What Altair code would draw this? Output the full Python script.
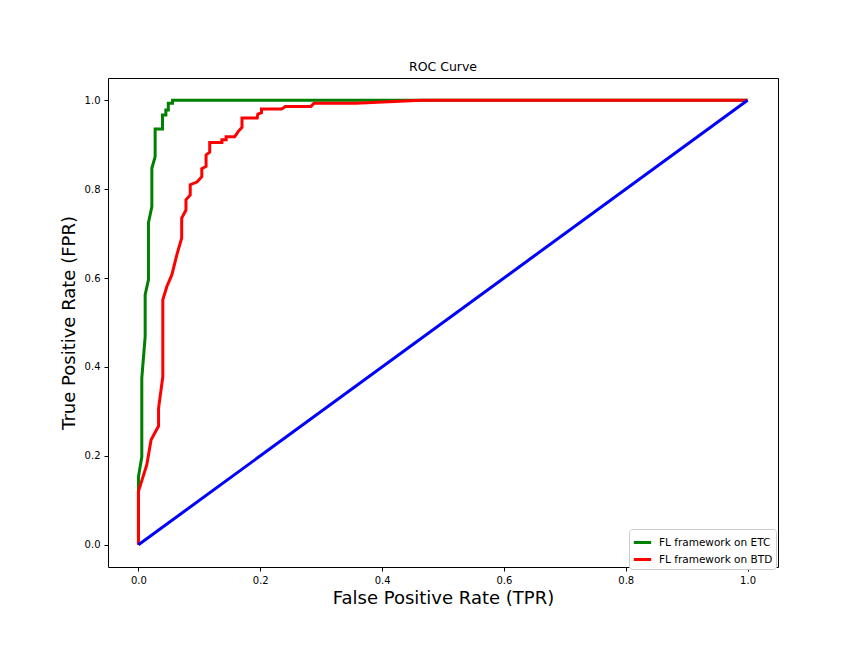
import altair as alt
import pandas as pd

etc_fpr = [0.0, 0.0, 0.0055, 0.0055, 0.011, 0.011, 0.0164, 0.0164, 0.022, 0.022, 0.0274, 0.0274,
           0.0395, 0.0395, 0.045, 0.045, 0.049, 0.049, 0.056, 0.056, 1.0]
etc_tpr = [0.0, 0.153, 0.198, 0.375, 0.468, 0.5625, 0.596, 0.724, 0.761, 0.847, 0.873, 0.935,
           0.935, 0.967, 0.967, 0.978, 0.978, 0.993, 0.993, 1.0, 1.0]

btd_fpr = [0.0, 0.0, 0.0137, 0.0208, 0.033, 0.033, 0.040, 0.040, 0.0466, 0.0548, 0.063, 0.071,
           0.071, 0.078, 0.078, 0.085, 0.085, 0.096, 0.104, 0.104, 0.111, 0.111, 0.117, 0.117,
           0.137, 0.137, 0.144, 0.144, 0.158, 0.164, 0.17, 0.17, 0.195, 0.196, 0.202, 0.202,
           0.235, 0.241, 0.283, 0.288, 0.357, 0.465, 1.0]
btd_tpr = [0.0, 0.12, 0.18, 0.236, 0.267, 0.307, 0.378, 0.551, 0.581, 0.607, 0.652, 0.69,
           0.735, 0.753, 0.776, 0.787, 0.81, 0.816, 0.828, 0.846, 0.851, 0.877, 0.883, 0.905,
           0.905, 0.911, 0.911, 0.918, 0.918, 0.930, 0.939, 0.96, 0.96, 0.969, 0.972, 0.98,
           0.98, 0.986, 0.986, 0.993, 0.993, 1.0, 1.0]

diag_fpr = [0.0, 1.0]
diag_tpr = [0.0, 1.0]

series_names = ["FL framework on ETC", "FL framework on BTD"]
series_colors = ["#008000", "#ff0000"]

rows = []
for i, (x, y) in enumerate(zip(etc_fpr, etc_tpr)):
    rows.append({"fpr": x, "tpr": y, "series": series_names[0], "idx": i})
for i, (x, y) in enumerate(zip(btd_fpr, btd_tpr)):
    rows.append({"fpr": x, "tpr": y, "series": series_names[1], "idx": i})
df = pd.DataFrame(rows)
diag = pd.DataFrame({"fpr": diag_fpr, "tpr": diag_tpr, "idx": [0, 1]})

ticks = [0.0, 0.2, 0.4, 0.6, 0.8, 1.0]
font = "DejaVu Sans"

xscale = alt.Scale(domain=[-0.05, 1.05], nice=False, zero=False)
yscale = alt.Scale(domain=[-0.05, 1.05], nice=False, zero=False)

xaxis = alt.Axis(values=ticks, format=".1f", title="False Positive Rate (TPR)", grid=False,
                 domain=False, tickColor="black", tickSize=4, labelColor="black",
                 labelFontSize=10, labelFont=font, titleFont=font, titleFontSize=18,
                 titleFontWeight="normal", titleColor="black", titlePadding=4, labelPadding=4)
yaxis = alt.Axis(values=ticks, format=".1f", title="True Positive Rate (FPR)", grid=False,
                 domain=False, tickColor="black", tickSize=4, labelColor="black",
                 labelFontSize=10, labelFont=font, titleFont=font, titleFontSize=18,
                 titleFontWeight="normal", titleColor="black", titlePadding=6, labelPadding=4)

lines = alt.Chart(df).mark_line(strokeWidth=3, clip=True).encode(
    x=alt.X("fpr:Q", scale=xscale, axis=xaxis),
    y=alt.Y("tpr:Q", scale=yscale, axis=yaxis),
    color=alt.Color("series:N", scale=alt.Scale(domain=series_names, range=series_colors),
                    sort=series_names,
                    legend=alt.Legend(title=None, orient="none", legendX=521, legendY=451,
                                      symbolType="stroke", symbolStrokeWidth=3, symbolSize=300,
                                      labelFont=font, labelFontSize=10.5, labelColor="black",
                                      fillColor="white", strokeColor="#cccccc", padding=3,
                                      cornerRadius=3, rowPadding=0, labelOffset=6)),
    order="idx:Q",
)

diag_line = alt.Chart(diag).mark_line(strokeWidth=3, color="#0000ff").encode(
    x=alt.X("fpr:Q", scale=xscale),
    y=alt.Y("tpr:Q", scale=yscale),
    order="idx:Q",
)

chart = alt.layer(lines, diag_line).properties(
    width=670, height=489,
    background="white",
    title=alt.TitleParams("ROC Curve", font=font, fontSize=12.5, fontWeight="normal",
                          color="black", anchor="middle", offset=5),
    autosize=alt.AutoSizeParams(type="none"),
    padding={"left": 100, "top": 70, "right": 70, "bottom": 60},
).configure_view(stroke="black", strokeWidth=1)

chart.save("out.html", embed_options={"renderer": "svg", "actions": False})
